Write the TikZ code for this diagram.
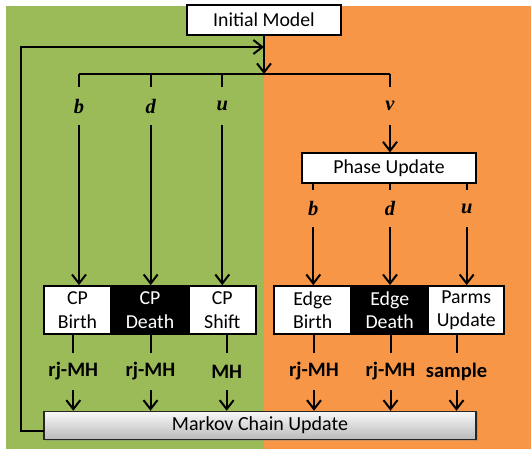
\documentclass[tikz,border=0pt]{standalone}
\usepackage{fontspec}
\setmainfont{Carlito}
\newfontfamily\varfont{Liberation Serif}
\usetikzlibrary{arrows.meta,shadows}
\definecolor{bggreen}{HTML}{9BBB59}
\definecolor{bgorange}{HTML}{F79646}
\begin{document}
\begin{tikzpicture}[x=1pt,y=-1pt,
  conn/.style={line width=2pt,draw=black},
  arr/.style={conn,-{Straight Barb[length=9pt,width=14pt,line width=2pt]}},
  wbox/.style={draw=black,line width=1.8pt,fill=white,inner sep=0pt,align=center,
    font=\fontsize{19.8}{23.5}\selectfont,text=black},
  bbox/.style={wbox,fill=black,text=white},
  var/.style={inner sep=0pt,font=\varfont\bfseries\itshape\fontsize{20.5}{20.5}\selectfont},
  meth/.style={inner sep=0pt,font=\bfseries\fontsize{20.5}{20.5}\selectfont},
]
\useasboundingbox (0,0) rectangle (531,448);
% backgrounds
\fill[bggreen] (6,6) rectangle (264,451);
\fill[bgorange] (264,6) rectangle (534,451);

% nodes
\node[wbox,minimum width=154,minimum height=30] (init) at (264,20) {Initial Model};
\node[wbox,minimum width=174,minimum height=30] (phase) at (389,168.3) {Phase Update};

\node[wbox,minimum width=67,minimum height=48] (cpb) at (77.5,310) {CP\\Birth};
\node[wbox,minimum width=66.7,minimum height=48] (cps) at (222.3,310) {CP\\Shift};
\node[bbox,minimum width=78,minimum height=48] (cpd) at (150,310) {CP\\Death};

\node[wbox,minimum width=76.7,minimum height=48] (eb) at (312.7,310) {Edge\\Birth};
\node[wbox,minimum width=76,minimum height=48] (pu) at (466.3,310) {Parms\\Update};
\node[bbox,minimum width=77.3,minimum height=48] (ed) at (389.7,310) {Edge\\Death};

\node[draw=black!85,line width=1.5pt,top color=white!97!black,bottom color=black!27,
  drop shadow={shadow xshift=1.5pt,shadow yshift=-1.5pt,opacity=0.35},
  minimum width=432,minimum height=28,inner sep=0pt,
  font=\fontsize{20}{20}\selectfont,text=black] (mc) at (260,425.5) {Markov Chain Update};

% variable labels (top)
\node[var,minimum height=38] (vb) at (79,106) {b};
\node[var,minimum height=38] (vd) at (150.7,106) {d};
\node[var,minimum height=38] (vu) at (222.3,106) {u};
\node[var,minimum height=38] (vv) at (390,106) {v};

% variable labels (phase)
\node[var,minimum height=37] (pb) at (313.3,208.5) {b};
\node[var,minimum height=37] (pd) at (390,208.5) {d};
\node[var,minimum height=37] (pu2) at (466.7,208.5) {u};

% method labels
\node[meth,minimum height=37] (m1) at (73.3,371.5) {rj-MH};
\node[meth,minimum height=37] (m2) at (150.5,371.5) {rj-MH};
\node[meth,minimum height=37] (m3) at (226.7,371.5) {MH};
\node[meth,minimum height=37] (m4) at (314,371.5) {rj-MH};
\node[meth,minimum height=37] (m5) at (390.5,371.5) {rj-MH};
\node[meth,minimum height=37] (m6) at (456.5,371.5) {sample};

% coordinates
\coordinate (jn) at (264,74);
\coordinate (fb) at (264,47);
\coordinate (barL) at (79,74);
\coordinate (barR) at (390,74);
\coordinate (fbs) at (44,431);
\coordinate (c1) at (21,431);
\coordinate (c2) at (21,47);

% top structure
\draw[arr] (init.south) -- (jn);
\draw[arr] (fbs) -- (c1) -- (c2) -- (fb);
\draw[conn] (barL) -- (barR);
\foreach \n in {vb,vd,vu,vv} \draw[conn] (\n.north |- barL) -- (\n.north);
\draw[arr] (vb.south) -- (vb.south |- cpb.north);
\draw[arr] (vd.south) -- (vd.south |- cpd.north);
\draw[arr] (vu.south) -- (vu.south |- cps.north);
\draw[arr] (vv.south) -- (vv.south |- phase.north);

% phase structure
\foreach \n in {pb,pd,pu2} \draw[conn] (\n.north |- phase.south) -- (\n.north);
\draw[arr] (pb.south) -- (pb.south |- eb.north);
\draw[arr] (pd.south) -- (pd.south |- ed.north);
\draw[arr] (pu2.south) -- (pu2.south |- pu.north);

% methods
\draw[conn] (m1.north |- cpb.south) -- (m1.north);
\draw[conn] (m2.north |- cpd.south) -- (m2.north);
\draw[conn] (m3.north |- cps.south) -- (m3.north);
\draw[conn] (m4.north |- eb.south) -- (m4.north);
\draw[conn] (m5.north |- ed.south) -- (m5.north);
\draw[conn] (m6.north |- pu.south) -- (m6.north);
\foreach \n in {m1,m2,m3,m4,m5,m6} \draw[arr] (\n.south) -- (\n.south |- mc.north);
\end{tikzpicture}
\end{document}
